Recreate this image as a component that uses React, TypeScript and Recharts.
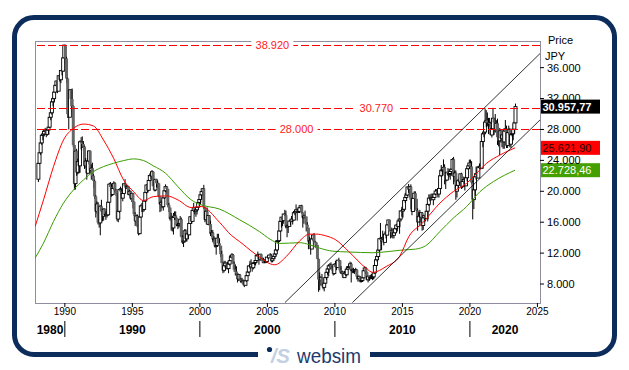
import React from 'react';
import { ComposedChart, Bar, Line, XAxis, YAxis, ReferenceLine, ReferenceArea } from 'recharts';

const FONT = '"Liberation Sans", Arial, Helvetica, sans-serif';

// monthly candles, Jan 1988 .. May 2023 (open = close of the month before)
const startYear = 1988;
const firstOpen = 21564;
const closes = [
  23622, 24982, 26260, 27256, 27418, 27769, 27912, 27366, 27924, 28299, 29579, 30159,
  31581, 31986, 32839, 33713, 34267, 32949, 34954, 34431, 35637, 35549, 37269, 38916,
  37189, 34592, 29980, 29585, 33131, 31940, 31036, 25978, 20984, 25194, 22455, 23849,
  23293, 26409, 26292, 26111, 25790, 23291, 23901, 22336, 23917, 25222, 22688, 22984,
  22023, 21339, 19346, 17391, 18348, 15952, 15910, 18061, 17399, 16767, 17684, 16925,
  17023, 16953, 18591, 20920, 20552, 19591, 20380, 21027, 20106, 19703, 16408, 17417,
  20229, 19997, 19112, 19725, 20973, 20644, 20449, 20629, 19564, 19990, 19076, 19723,
  18650, 17053, 16140, 16807, 15437, 14517, 16678, 18117, 17913, 17655, 18744, 19868,
  20813, 20125, 21407, 22041, 21956, 22531, 20693, 20167, 21556, 21040, 21020, 19361,
  18330, 18557, 18003, 19151, 20069, 20605, 20331, 18229, 17888, 16459, 16636, 15259,
  16628, 16831, 16527, 15641, 15671, 15830, 16379, 14108, 13406, 13564, 14883, 13842,
  14499, 14368, 15837, 16702, 16112, 17530, 17862, 17437, 17605, 17942, 18558, 18934,
  19540, 19960, 20337, 17974, 16332, 17411, 15727, 16861, 15747, 14540, 14649, 13786,
  13843, 12884, 12999, 13934, 13262, 12969, 11861, 10714, 9775, 10366, 10697, 10543,
  9997, 10587, 11025, 11493, 11764, 10622, 9877, 9619, 9383, 8640, 9216, 8579,
  8340, 8363, 7973, 7831, 8425, 9083, 9563, 10344, 10219, 10560, 10101, 10677,
  10783, 11042, 11715, 11761, 11236, 11858, 11326, 11082, 10824, 10771, 10899, 11489,
  11388, 11741, 11669, 11009, 11277, 11584, 11900, 12414, 13574, 13607, 14872, 16111,
  16650, 16205, 17060, 16907, 15467, 15505, 15457, 16141, 16128, 16399, 16274, 17226,
  17383, 17604, 17288, 17400, 17876, 18138, 17249, 16569, 16786, 16738, 15681, 15308,
  13592, 13603, 12526, 13850, 14339, 13481, 13377, 13073, 11260, 8577, 8512, 8860,
  7994, 7568, 8110, 8828, 9523, 9958, 10357, 10493, 10133, 10035, 9346, 10546,
  10198, 10126, 11090, 11057, 9769, 9383, 9537, 8824, 9369, 9202, 9937, 10229,
  10238, 10624, 9755, 9850, 9694, 9816, 9833, 8955, 8700, 8988, 8435, 8455,
  8803, 9723, 10084, 9521, 8543, 9007, 8695, 8840, 8870, 8928, 9446, 10395,
  11139, 11559, 12398, 13861, 13775, 13677, 13668, 13389, 14456, 14328, 15662, 16291,
  14915, 14841, 14828, 14304, 14632, 15162, 15621, 15425, 16174, 16414, 17460, 17451,
  17674, 18798, 19207, 19520, 20563, 20236, 20585, 18890, 17388, 19083, 19747, 19034,
  17518, 16027, 16759, 16666, 17235, 15576, 16569, 16887, 16450, 17425, 18308, 19114,
  19041, 19119, 18909, 19197, 19651, 20033, 19925, 19646, 20356, 22012, 22725, 22765,
  23098, 22068, 21454, 22468, 22202, 22305, 22554, 22865, 24120, 21920, 22351, 20015,
  20773, 21385, 21206, 22259, 20601, 21276, 21522, 20704, 21756, 22927, 23294, 23657,
  23205, 21143, 18917, 20194, 21878, 22288, 21710, 23140, 23185, 22977, 26434, 27444,
  27663, 28966, 29179, 28813, 28860, 28792, 27284, 28090, 29453, 28893, 27822, 28792,
  27002, 26527, 27821, 26848, 27280, 26393, 27802, 28092, 25937, 27587, 27969, 26095,
  27327, 27446, 28041, 28856, 30958,
];
const highs = [
  23800, 25000, 26300, 27300, 27600, 28000, 28200, 28100, 28000, 28400, 29600, 30200,
  31600, 32200, 32900, 33800, 34300, 34300, 35000, 35200, 35700, 35800, 37300, 38957,
  38700, 37400, 34700, 30700, 33200, 33200, 33300, 31100, 26000, 25200, 25500, 24200,
  24400, 26600, 27000, 27100, 26500, 25900, 24300, 24000, 24200, 25300, 25200, 23500,
  23700, 22200, 21500, 19500, 18700, 18600, 16400, 18200, 18900, 17500, 17800, 17800,
  17400, 17600, 18700, 21100, 21200, 21000, 20800, 21300, 21200, 20300, 19700, 17500,
  20400, 20600, 20400, 20200, 21000, 21573, 20900, 20800, 20700, 20200, 20100, 19800,
  19800, 18700, 17300, 16900, 17000, 15700, 16800, 18300, 18500, 18200, 18800, 19900,
  20900, 21100, 21600, 22300, 22500, 22750, 22500, 21100, 21600, 21600, 21400, 21100,
  19400, 18800, 18800, 19200, 20100, 20900, 20700, 20300, 18500, 17900, 17200, 16800,
  17200, 17400, 17400, 16600, 15900, 15900, 16800, 16600, 14300, 14200, 15100, 15100,
  14600, 14600, 15900, 16800, 17300, 17600, 18500, 17900, 17900, 18000, 18600, 18980,
  19600, 20000, 20400, 20833, 17800, 17500, 17900, 16900, 16700, 16200, 15000, 15000,
  14200, 14000, 13300, 14500, 14500, 13900, 12900, 12300, 10800, 11000, 11000, 10800,
  10900, 10700, 11700, 11700, 12000, 11900, 10900, 10500, 10300, 9400, 9300, 9300,
  8800, 8800, 8600, 8200, 8500, 9200, 10000, 10400, 11000, 11200, 10800, 10700,
  11000, 11100, 11800, 12200, 11800, 11900, 11900, 11400, 11400, 11200, 11300, 11500,
  11500, 11800, 12000, 11900, 11300, 11600, 11900, 12500, 13600, 13800, 14900, 16300,
  16700, 16800, 17100, 17600, 17500, 15700, 15700, 16300, 16400, 16800, 16500, 17300,
  17600, 18300, 17800, 17700, 17900, 18200, 18262, 17300, 16900, 17500, 16500, 16000,
  15200, 14100, 13700, 13900, 14400, 14600, 13600, 13400, 12800, 11300, 9500, 9000,
  9300, 8000, 8700, 9000, 9600, 10200, 10400, 10700, 10800, 10400, 10100, 10700,
  11000, 10400, 11100, 11400, 11100, 10300, 9700, 9600, 9700, 9700, 10200, 10300,
  10600, 10900, 10800, 10000, 10100, 9900, 10100, 9900, 9100, 9100, 9000, 8700,
  8900, 9800, 10300, 10200, 9600, 9000, 9100, 9200, 9300, 9200, 9500, 10400,
  11200, 11600, 12600, 14000, 15900, 14100, 14900, 14100, 14800, 14800, 15700, 16300,
  16300, 15000, 15300, 15200, 14700, 15400, 15800, 15600, 16400, 16500, 17500, 18000,
  17900, 18800, 19800, 20100, 20600, 20953, 20700, 20900, 18800, 19200, 20000, 20000,
  18900, 17800, 17300, 17600, 17300, 17300, 16900, 16900, 17100, 17500, 18500, 19600,
  19600, 19700, 19700, 19300, 19800, 20300, 20300, 20100, 20500, 22100, 23400, 23000,
  24129, 23500, 22000, 22500, 23000, 22900, 22900, 23000, 24300, 24448, 22700, 22700,
  20900, 21600, 21900, 22300, 22400, 21500, 21900, 21500, 22100, 23000, 23600, 24100,
  24100, 23900, 21400, 20400, 22000, 23200, 23000, 23300, 23600, 23700, 26800, 27600,
  28980, 30714, 30500, 30200, 29500, 29500, 29000, 28400, 30795, 29400, 30000, 29200,
  29400, 27600, 28200, 28000, 27300, 28000, 28000, 29222, 28500, 27600, 28500, 28200,
  27500, 27700, 28700, 29100, 31350,
];
const lows = [
  21200, 23500, 24700, 26000, 26600, 27100, 27300, 27000, 27200, 27400, 28200, 29200,
  29900, 31000, 31500, 32800, 33500, 32700, 33000, 34200, 34000, 35000, 35500, 37200,
  36500, 34000, 29500, 28000, 29800, 31000, 30200, 25700, 20200, 20222, 22000, 22200,
  22300, 22400, 25400, 25600, 25200, 22900, 23000, 21500, 22200, 23500, 22300, 21500,
  21500, 20400, 19000, 16600, 17100, 15700, 15300, 14309, 17000, 16100, 16200, 16800,
  16300, 16600, 16800, 18500, 20000, 19300, 19400, 20200, 19900, 19400, 16100, 16000,
  17200, 19400, 19100, 18700, 19700, 20500, 20300, 20300, 19500, 19400, 18900, 18600,
  17800, 16800, 15500, 15700, 15300, 14300, 14400, 16600, 17300, 17300, 17400, 18600,
  19700, 19900, 20000, 21300, 21500, 21800, 20600, 20000, 20000, 20500, 20400, 19200,
  17300, 17400, 17800, 17500, 19000, 19900, 19700, 18000, 17300, 16200, 14900, 14800,
  14400, 16300, 16300, 15500, 15100, 15300, 15600, 14000, 13200, 12787, 13600, 13500,
  13500, 13900, 14300, 15800, 15900, 16000, 17300, 17000, 16700, 17000, 17800, 18100,
  18300, 19000, 19400, 17700, 16000, 16100, 15700, 15600, 15700, 14200, 14100, 13400,
  13200, 12700, 11800, 12800, 13000, 12400, 11500, 10700, 9400, 9500, 10100, 9900,
  9900, 9400, 10400, 11000, 11300, 10600, 9600, 9100, 9000, 8200, 8400, 8400,
  8300, 8300, 7850, 7603, 7900, 8300, 9100, 9400, 10000, 10200, 9600, 9900,
  10500, 10400, 10900, 11600, 10500, 11000, 11000, 10700, 10700, 10700, 10800, 10900,
  11300, 11400, 11500, 10800, 10800, 11200, 11400, 11700, 12200, 13200, 13600, 14800,
  15300, 15500, 15800, 16800, 15200, 14050, 14600, 15400, 15600, 16100, 15700, 16200,
  16900, 17400, 16200, 17200, 17200, 17700, 17100, 15300, 15800, 16500, 14800, 15100,
  12500, 13000, 11800, 12600, 13600, 13400, 12700, 12600, 11100, 6994, 7200, 7800,
  7800, 7300, 7054, 8100, 8500, 9200, 9000, 10100, 9900, 9700, 9100, 9200,
  10100, 9800, 10100, 10900, 9500, 9500, 9100, 8800, 8900, 9100, 9000, 9900,
  10100, 10400, 8200, 9400, 9400, 9300, 9800, 8600, 8300, 8400, 8200, 8200,
  8300, 8800, 9700, 9300, 8500, 8200, 8400, 8600, 8800, 8500, 8600, 9300,
  10400, 10900, 11300, 12000, 13500, 12400, 13700, 13000, 13500, 13900, 14300, 15200,
  14900, 13900, 14000, 13900, 13900, 14700, 15000, 14800, 15400, 14500, 16400, 16700,
  16600, 17500, 18500, 19000, 19400, 19800, 19200, 17700, 16900, 17400, 19000, 18600,
  16000, 14900, 16000, 15500, 16000, 14900, 15000, 16100, 16100, 16400, 16100, 18100,
  18700, 18800, 19000, 18200, 19200, 19500, 19800, 19200, 19200, 20300, 21900, 22100,
  22800, 20900, 20300, 21300, 22000, 21800, 21500, 22000, 22500, 20900, 21200, 18900,
  19200, 20300, 20900, 21500, 20300, 20400, 21000, 20100, 20700, 21300, 22800, 23000,
  22900, 20900, 16358, 17700, 19300, 21500, 21700, 21700, 22900, 22900, 22900, 25700,
  27000, 27400, 28300, 28400, 27400, 28300, 27300, 26954, 28100, 27300, 27600, 27600,
  26000, 25800, 24681, 26300, 25700, 25500, 25500, 27600, 25600, 25600, 27300, 25700,
  25600, 27100, 26600, 27500, 28900,
];

// moving averages: [year, value]
const redMa = [
  [1987.8, 15440], [1988.42, 18890], [1989.16, 23190], [1989.9, 26640], [1990.64, 28150],
  [1991.4, 28700], [1992.12, 28450], [1992.86, 26640], [1993.61, 24280], [1994.35, 21470],
  [1995.09, 19960], [1995.83, 18800], [1996.57, 19320], [1997.55, 19400], [1998.37, 18890],
  [1999.36, 17900], [2000.1, 18030], [2001.45, 16000], [2002.33, 14300], [2002.94, 13500],
  [2004.18, 11790], [2005.55, 10490], [2006.4, 11560], [2007.4, 13600], [2008.1, 14450],
  [2008.6, 14460], [2009.3, 14250], [2010.06, 13720], [2011.0, 12250], [2012.3, 10070],
  [2012.8, 9500], [2013.8, 10270], [2014.8, 11600], [2015.48, 14150], [2016.48, 15880],
  [2017.78, 18470], [2018.77, 19960], [2019.76, 21050], [2020.5, 22340], [2021.24, 23630],
  [2022.23, 24700], [2023.34, 25622],
];
const greenMa = [
  [1987.8, 11360], [1988.42, 13300], [1989.16, 16090], [1989.9, 18470], [1990.64, 20180],
  [1991.38, 21470], [1992.12, 22550], [1992.86, 23190], [1993.61, 23630], [1994.35, 23970],
  [1995.09, 24190], [1995.83, 23970], [1996.57, 23280], [1997.45, 22350], [1998.37, 20610],
  [1999.36, 18890], [2000.0, 18300], [2001.45, 17700], [2002.96, 16300], [2004.4, 14800],
  [2005.2, 13800], [2005.9, 13250], [2007.4, 13350], [2008.1, 13100], [2008.86, 12650],
  [2009.85, 12250], [2011.0, 12150], [2012.8, 12050], [2014.0, 12210], [2014.99, 12400],
  [2015.98, 12520], [2016.72, 12950], [2017.78, 14800], [2018.77, 16530], [2019.76, 18030],
  [2020.75, 19960], [2021.74, 21250], [2023.34, 22728],
];

const levels = [38920, 30770, 28000];
const levelLabelAt = [0.47, 0.676, 0.518];
const channelUpper = [[2006.3, 5600], [2025.19, 37820]];
const channelLower = [[2011.3, 5600], [2025.19, 29230]];
const yearTicks = [1990, 1995, 2000, 2005, 2010, 2015, 2020, 2025];
const priceTicks = [8000, 12000, 16000, 20000, 24000, 28000, 32000, 36000];
const decadeDividers = [1990, 2000, 2010, 2020];
const decadeNames = ['1980', '1990', '2000', '2010', '2020'];
const decadeCenters = [1988.9, 1995, 2005, 2015, 2022.6];
const lastPrice = 30957.77;
const redLast = 25621.9;
const greenLast = 22728.46;

const xDomain = [1987.79, 2025.19];
const yDomain = [5545, 39447];

const candles = closes.map((c, i) => ({
  t: startYear + (i + 0.5) / 12,
  open: i === 0 ? firstOpen : closes[i - 1],
  close: c,
  high: highs[i],
  low: lows[i],
  range: [lows[i], highs[i]],
}));
const redData = redMa.map(([t, v]) => ({ t, v }));
const greenData = greenMa.map(([t, v]) => ({ t, v }));

const thousands = (n: number) => String(n).replace(/\B(?=(\d{3})+(?!\d))/g, '.');
const deNum = (n: number) => {
  const [i, d] = n.toFixed(2).split('.');
  return thousands(Number(i)) + ',' + d;
};

const Candle = (props: any) => {
  const { x, y, width, height, payload } = props;
  if (x == null || !payload) return null;
  const { open, close, high, low } = payload;
  const cx = x + width / 2;
  const span = high - low || 1;
  const toY = (v: number) => y + ((high - v) / span) * height;
  const yo = toY(open);
  const yc = toY(close);
  const up = close >= open;
  const top = Math.min(yo, yc);
  const h = Math.max(Math.abs(yc - yo), 1);
  return (
    <g>
      <line x1={cx} x2={cx} y1={y} y2={y + height} stroke="#000" strokeWidth={1} />
      <rect x={cx - 1.5} y={top} width={3} height={h}
        fill={up ? '#fff' : '#666'} stroke={up ? '#000' : '#666'} strokeWidth={up ? 0.9 : 0} />
    </g>
  );
};

const LevelLabel = ({ viewBox, text, at }: any) => {
  if (!viewBox) return null;
  const cx = viewBox.x + viewBox.width * at;
  return (
    <g>
      <rect x={cx - 21} y={viewBox.y - 6} width={42} height={12} fill="#fff" />
      <text x={cx} y={viewBox.y + 4} textAnchor="middle" fontSize={11} fontFamily={FONT} fill="#ff2020">{text}</text>
    </g>
  );
};

const Badge = ({ viewBox, text, bg, fg, bold }: any) => {
  if (!viewBox) return null;
  const x = viewBox.x + viewBox.width + 1;
  const y = viewBox.y;
  return (
    <g>
      <rect x={x} y={y - 7} width={59} height={14} fill={bg} />
      <text x={x + 1.5} y={y + 4} fontSize={11} fontFamily={FONT} fontWeight={bold ? 700 : 400} fill={fg}>{text}</text>
    </g>
  );
};

const DecadeTick = ({ x, y, payload }: any) => {
  const v = payload.value;
  if (decadeDividers.includes(v)) {
    return <line x1={x} x2={x} y1={y} y2={y + 16} stroke="#000" strokeWidth={1} />;
  }
  const k = decadeCenters.indexOf(v);
  if (k < 0) return null;
  return (
    <text x={x} y={y + 13} textAnchor="middle" fontSize={12} fontWeight={700} fontFamily={FONT} fill="#000">
      {decadeNames[k]}
    </text>
  );
};

export default function App() {
  return (
    <div style={{ position: 'absolute', left: 0, top: 0, width: 629, height: 370, background: '#fff', fontFamily: FONT }}>
      <div style={{
        position: 'absolute', left: 12, top: 15, width: 605, height: 342, boxSizing: 'border-box',
        border: '5px solid #0c2c5c', borderRadius: 22,
      }} />
      <div style={{ position: 'absolute', left: 0, top: 0 }}>
        <ComposedChart width={629} height={370} data={candles} margin={{ top: 41, right: 0, bottom: 27, left: 35 }}>
          <XAxis dataKey="t" type="number" domain={xDomain} allowDataOverflow ticks={yearTicks} interval={0}
            axisLine={false} tickLine={{ stroke: '#000' }} tickSize={4} tickMargin={1} height={18}
            tick={{ fontSize: 10, fill: '#000', fontFamily: FONT }} />
          <XAxis xAxisId="dec" dataKey="t" type="number" domain={xDomain} allowDataOverflow
            ticks={[...decadeDividers, ...decadeCenters].sort((a, b) => a - b)} interval={0}
            axisLine={false} tickLine={false} tickSize={0} tickMargin={0} height={22} tick={<DecadeTick />} />
          <YAxis orientation="right" type="number" domain={yDomain} allowDataOverflow ticks={priceTicks} interval={0}
            width={89} axisLine={false} tickLine={{ stroke: '#000' }} tickSize={4} tickMargin={3}
            tickFormatter={(v: number) => thousands(v)}
            tick={{ fontSize: 11, fill: '#000', fontFamily: FONT, textAnchor: 'start' }} />
          <ReferenceArea x1={xDomain[0]} x2={xDomain[1]} y1={yDomain[0]} y2={yDomain[1]}
            fill="none" stroke="#8e8ea0" strokeWidth={1} ifOverflow="visible" shapeRendering="crispEdges" />
          <Bar dataKey="range" barSize={3} shape={<Candle />} isAnimationActive={false} />
          <Line data={greenData} dataKey="v" type="monotone" stroke="#3a9d00" strokeWidth={1} dot={false} isAnimationActive={false} />
          <Line data={redData} dataKey="v" type="monotone" stroke="#ff0000" strokeWidth={1} dot={false} isAnimationActive={false} />
          {levels.map((lv, i) => (
            <ReferenceLine key={lv} y={lv} stroke="#ff0000" strokeDasharray="8 3" strokeWidth={1}
              shapeRendering="crispEdges" label={<LevelLabel text={thousands(lv)} at={levelLabelAt[i]} />} />
          ))}
          <ReferenceLine segment={channelUpper.map(([x, y]) => ({ x, y }))} stroke="#000" strokeWidth={0.8} ifOverflow="visible" />
          <ReferenceLine segment={channelLower.map(([x, y]) => ({ x, y }))} stroke="#000" strokeWidth={0.8} ifOverflow="visible" />
          <ReferenceLine y={lastPrice} stroke="none" ifOverflow="visible"
            label={<Badge text={deNum(lastPrice)} bg="#000" fg="#fff" bold />} />
          <ReferenceLine y={redLast} stroke="none" ifOverflow="visible"
            label={<Badge text={deNum(redLast)} bg="#ff0000" fg="#2a0000" />} />
          <ReferenceLine y={greenLast} stroke="none" ifOverflow="visible"
            label={<Badge text={deNum(greenLast)} bg="#43a000" fg="#fff" />} />
        </ComposedChart>
      </div>
      <div style={{ position: 'absolute', left: 548, top: 34, fontSize: 11, color: '#000' }}>Price</div>
      <div style={{ position: 'absolute', left: 545, top: 50, fontSize: 11, color: '#000' }}>JPY</div>
      <svg width={112} height={32} style={{ position: 'absolute', left: 258, top: 338 }}>
        <rect x={0} y={11} width={112} height={12} fill="#fff" />
        <circle cx={11.5} cy={11.5} r={2.6} fill="#0c2c5c" />
        <text x={13} y={25} fontSize={20} fontStyle="italic" fontWeight={700} fill="#c3d0e2" fontFamily={FONT}>/S</text>
        <text x={39} y={25} fontSize={21} fill="#1d3b6e" fontFamily={FONT} textLength={64} lengthAdjust="spacingAndGlyphs">websim</text>
      </svg>
    </div>
  );
}
